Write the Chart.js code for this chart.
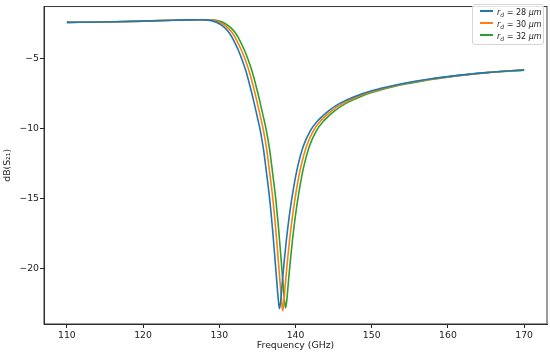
<!DOCTYPE html>
<html>
<head>
<meta charset="utf-8">
<script src="https://cdn.jsdelivr.net/npm/chart.js@4.4.1/dist/chart.umd.min.js"></script>
<style>
html,body{margin:0;padding:0;background:#fff;}
#wrap{position:relative;width:550px;height:358px;}
#legend{position:absolute;left:472px;top:4px;width:72px;height:41px;border:1px solid #d6d6d6;border-radius:3px;background:rgba(255,255,255,0.85);font-family:"DejaVu Sans",sans-serif;font-size:8px;color:#222;box-sizing:border-box;padding-top:2px;}
#legend .row{height:11.8px;line-height:11.8px;white-space:nowrap;}
#legend .ln{display:inline-block;width:13px;height:1.7px;margin-left:7px;margin-right:4px;vertical-align:3px;}
#legend sub{font-size:6px;vertical-align:-2px;line-height:0;}
</style>
</head>
<body>
<div id="wrap">
<canvas id="c" width="550" height="358"></canvas>
<div id="legend"></div>
</div>
<script>
// ---- data ----
const seriesLabels = ["28", "30", "32"];
const seriesColors = ["#1f77b4", "#ff7f0e", "#2ca02c"];

const freq28 = [110,115,120,124,126,127.5,128.5,129.3,130.0,130.7,131.3,131.9,132.5,133.0,133.5,134.0,134.5,135.0,135.4,135.8,136.2,136.6,137.0,137.3,137.55,137.75,137.9,138.05,138.25,138.5,138.8,139.2,139.7,140.3,141.0,141.9,143.0,144.3,145.8,147.7,150,153,156.5,160.5,165,170];
const db28   = [-2.40,-2.37,-2.31,-2.25,-2.22,-2.21,-2.24,-2.33,-2.50,-2.78,-3.15,-3.70,-4.40,-5.10,-5.90,-6.90,-8.00,-9.20,-10.2,-11.5,-13.2,-15.0,-17.3,-19.3,-21.0,-22.3,-22.9,-22.4,-21.1,-19.6,-18.0,-16.2,-14.4,-12.7,-11.3,-10.2,-9.40,-8.75,-8.20,-7.72,-7.30,-6.90,-6.55,-6.25,-6.00,-5.80];

const freq30 = [110,115,120,124,126.2,127.8,128.9,129.7,130.4,131.1,131.7,132.3,132.9,133.42,133.92,134.42,134.92,135.42,135.82,136.22,136.62,137.02,137.42,137.72,137.97,138.17,138.32,138.47,138.67,138.92,139.22,139.62,140.12,140.72,141.42,142.3,143.4,144.7,146.2,148.1,150.4,153.3,156.8,160.7,165.1,170];
const db30   = [-2.40,-2.37,-2.31,-2.25,-2.22,-2.21,-2.24,-2.33,-2.50,-2.78,-3.15,-3.70,-4.40,-5.10,-5.90,-6.90,-8.00,-9.20,-10.2,-11.5,-13.2,-15.0,-17.3,-19.3,-21.0,-22.3,-23.05,-22.4,-21.1,-19.6,-18.0,-16.2,-14.4,-12.7,-11.3,-10.2,-9.40,-8.75,-8.20,-7.72,-7.30,-6.90,-6.55,-6.25,-6.00,-5.81];

const freq32 = [110,115,120,124,126.4,128.1,129.3,130.1,130.8,131.5,132.1,132.7,133.3,133.8,134.3,134.8,135.3,135.8,136.2,136.6,137.0,137.4,137.8,138.1,138.35,138.55,138.7,138.85,139.05,139.3,139.6,140.0,140.5,141.1,141.8,142.7,143.8,145.1,146.6,148.5,150.8,153.6,157.1,160.9,165.2,170];
const db32   = [-2.40,-2.37,-2.31,-2.25,-2.22,-2.21,-2.24,-2.33,-2.50,-2.78,-3.15,-3.70,-4.40,-5.10,-5.90,-6.90,-8.00,-9.20,-10.2,-11.5,-13.2,-15.0,-17.3,-19.3,-21.0,-22.3,-22.85,-22.35,-21.1,-19.6,-18.0,-16.2,-14.4,-12.7,-11.3,-10.2,-9.40,-8.75,-8.20,-7.72,-7.30,-6.90,-6.55,-6.25,-6.00,-5.82];

const xTicks = [110,120,130,140,150,160,170];
const yTicks = [-20,-15,-10,-5];

// ---- build ----
const freqs = [freq28, freq30, freq32];
const dbs = [db28, db30, db32];
const datasets = seriesLabels.map((lab, i) => ({
  label: lab,
  data: freqs[i].map((f, j) => ({x: f, y: dbs[i][j]})),
  showLine: true,
  borderColor: seriesColors[i],
  backgroundColor: seriesColors[i],
  borderWidth: 1.6,
  pointRadius: 0,
  cubicInterpolationMode: 'monotone',
  fill: false
}));

const FONT = {family: "'DejaVu Sans', sans-serif", size: 9.3};
const frame = {
  id: 'frame',
  afterDatasetsDraw(chart) {
    const a = chart.chartArea, ctx = chart.ctx;
    ctx.save();
    ctx.strokeStyle = '#222';
    ctx.lineWidth = 0.9;
    ctx.strokeRect(a.left, a.top, a.right - a.left, a.bottom - a.top);
    ctx.restore();
  }
};

new Chart(document.getElementById('c'), {
  type: 'scatter',
  data: {datasets},
  options: {
    responsive: false,
    animation: false,
    layout: {padding: {left: 0, right: 3, top: 3, bottom: 0}},
    plugins: {legend: {display: false}, tooltip: {enabled: false}},
    scales: {
      x: {
        type: 'linear', min: 107, max: 173,
        afterBuildTicks: s => { s.ticks = xTicks.map(v => ({value: v})); },
        afterFit: s => { s.height = 34; },
        grid: {display: true, drawOnChartArea: false, drawTicks: true, tickLength: 4, color: '#222'},
        border: {display: true, color: '#222', width: 0.9},
        ticks: {font: FONT, color: '#222', padding: 2, maxRotation: 0},
        title: {display: true, text: 'Frequency (GHz)', font: FONT, color: '#222', padding: {top: 0, bottom: 7}}
      },
      y: {
        type: 'linear', min: -24.0, max: -1.27,
        afterBuildTicks: s => { s.ticks = yTicks.map(v => ({value: v})); },
        afterFit: s => { s.width = 44; },
        grid: {display: true, drawOnChartArea: false, drawTicks: true, tickLength: 4, color: '#222'},
        border: {display: true, color: '#222', width: 0.9},
        ticks: {font: FONT, color: '#222', padding: 1, callback: v => (v < 0 ? '\u2212' + Math.abs(v) : '' + v)},
        title: {display: true, text: 'dB(S\u2082\u2081)', font: FONT, color: '#222', padding: {top: 2, bottom: 0}}
      }
    }
  },
  plugins: [frame]
});

// HTML legend (italic r_d and μm as in reference)
const lg = document.getElementById('legend');
seriesLabels.forEach((lab, i) => {
  const row = document.createElement('div');
  row.className = 'row';
  row.innerHTML = '<span class="ln" style="background:' + seriesColors[i] + '"></span>' +
    '<i>r</i><sub><i>d</i></sub>&nbsp;=&nbsp;' + lab + '&nbsp;<i>\u03bcm</i>';
  lg.appendChild(row);
});
</script>
</body>
</html>
